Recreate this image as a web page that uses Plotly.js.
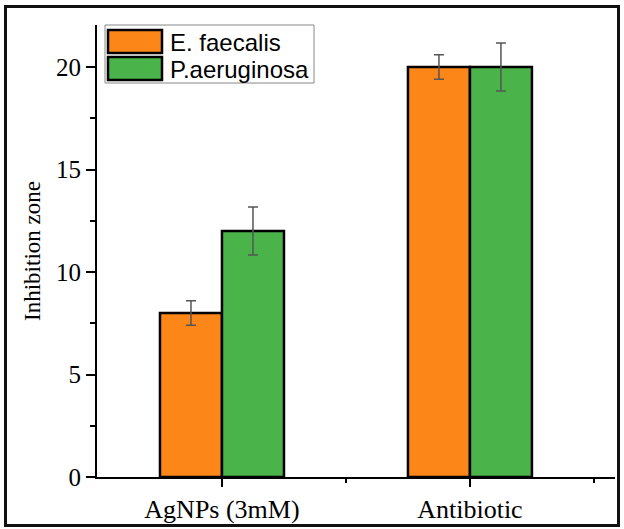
<!DOCTYPE html>
<html>
<head>
<meta charset="utf-8">
<script src="https://cdn.plot.ly/plotly-3.0.1.min.js"></script>
<style>
html,body{margin:0;padding:0;background:#fff;}
#wrap{position:relative;width:624px;height:529px;}
#chart{position:absolute;left:0;top:0;width:624px;height:529px;}
#frame{position:absolute;left:4px;top:5px;width:610px;height:516px;border:3px solid #111;pointer-events:none;}
</style>
</head>
<body>
<div id="wrap"><div id="chart"></div><div id="frame"></div></div>
<script>
const categories = ["AgNPs (3mM)", "Antibiotic"];
const seriesNames = ["E. faecalis", "P.aeruginosa"];
const eFaecalis = [8, 20];
const eFaecalisErr = [0.6, 0.6];
const pAeruginosa = [12, 20];
const pAeruginosaErr = [1.17, 1.17];
const yTicks = [0, 5, 10, 15, 20];

const xIdx = categories.map((c, i) => i);
const colors = ["#FC8618", "#4AB34A"];
const serif = "Liberation Serif, Times New Roman, serif";

// plot area in pixels (for the hand-drawn legend)
const M = {l: 97, r: 9, t: 25, b: 52};
const W = 624, H = 529;
const pw = W - M.l - M.r, ph = H - M.t - M.b;
const px = v => (v - M.l) / pw;
const py = v => (H - M.b - v) / ph;

function barTrace(name, vals, errs, color) {
  return {
    type: "bar", name: name, x: xIdx, y: vals,
    marker: {color: color, line: {color: "#000", width: 2.5}},
    error_y: {type: "data", array: errs, visible: true, color: "#555", thickness: 1.5, width: 5},
    showlegend: false
  };
}

const data = [
  barTrace(seriesNames[0], eFaecalis, eFaecalisErr, colors[0]),
  barTrace(seriesNames[1], pAeruginosa, pAeruginosaErr, colors[1])
];

// legend box
const shapes = [{
  type: "rect", xref: "paper", yref: "paper",
  x0: px(105), x1: px(314), y0: py(83), y1: py(25),
  line: {color: "#888", width: 1}, fillcolor: "#fff", layer: "above"
}];
const annotations = [];
const rowTop = [30, 57];
seriesNames.forEach((n, i) => {
  shapes.push({
    type: "rect", xref: "paper", yref: "paper",
    x0: px(108), x1: px(162), y0: py(rowTop[i] + 23), y1: py(rowTop[i]),
    line: {color: "#000", width: 2.5}, fillcolor: colors[i], layer: "above"
  });
  annotations.push({
    xref: "paper", yref: "paper", x: px(168), y: py(rowTop[i] + 12),
    xanchor: "left", yanchor: "middle", showarrow: false, text: n,
    font: {family: "Liberation Sans, Arial, sans-serif", size: 24, color: "#000"}
  });
});

const layout = {
  width: W, height: H,
  margin: M,
  paper_bgcolor: "#fff", plot_bgcolor: "#fff",
  barmode: "group", bargap: 0.5, bargroupgap: 0,
  showlegend: false,
  shapes: shapes, annotations: annotations,
  xaxis: {
    type: "linear", range: [-0.504, 1.585],
    tickvals: xIdx, ticktext: categories,
    ticks: "outside", ticklen: 8, tickwidth: 2, tickcolor: "#000",
    showline: true, linecolor: "#000", linewidth: 2,
    showgrid: false, zeroline: false,
    minor: {tickvals: [0.5, 1.5], ticks: "outside", ticklen: 4, tickwidth: 2, tickcolor: "#000", showgrid: false},
    tickfont: {family: serif, size: 26, color: "#000"}
  },
  yaxis: {
    range: [0, 22.05],
    tickvals: yTicks,
    ticks: "outside", ticklen: 9, tickwidth: 2, tickcolor: "#000",
    showline: true, linecolor: "#000", linewidth: 2,
    showgrid: false, zeroline: false,
    minor: {dtick: 2.5, ticks: "outside", ticklen: 5, tickwidth: 2, tickcolor: "#000", showgrid: false},
    tickfont: {family: serif, size: 25, color: "#000"},
    title: {text: "Inhibition zone", standoff: 9,
      font: {family: serif, size: 23, color: "#000"}}
  }
};

Plotly.newPlot("chart", data, layout, {displayModeBar: false, staticPlot: true});
</script>
</body>
</html>
